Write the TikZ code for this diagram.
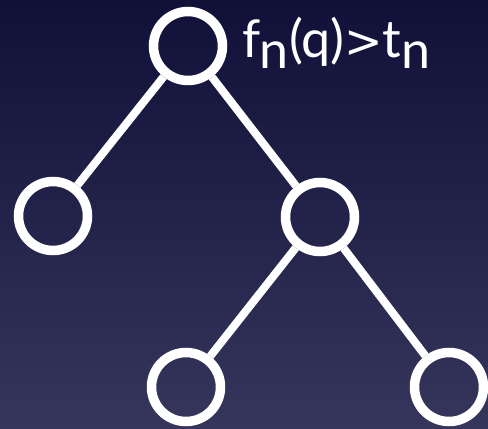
\documentclass[tikz,border=0pt]{standalone}
\usepackage{fontspec}
\setmainfont{Lato}
\newfontfamily\symfont{DejaVu Sans}
\definecolor{bgtop}{RGB}{16,16,56}
\definecolor{bgbot}{RGB}{54,53,92}
\begin{document}
\begin{tikzpicture}[x=1pt,y=-1pt,
  treenode/.style={circle,draw=white,line width=9.5pt,minimum size=69pt,inner sep=0pt},
  edge/.style={draw=white,line width=8pt},
  lbl/.style={text=white,font=\fontsize{52}{52}\selectfont,inner sep=0pt,anchor=base west}]
\shade[top color=bgtop,bottom color=bgbot] (0,0) rectangle (488,429);
\useasboundingbox (0,0) rectangle (488,429);
\node[treenode] (root) at (188,46) {};
\node[treenode] (l) at (53,216) {};
\node[treenode] (r) at (320,217) {};
\node[treenode] (rl) at (186,387) {};
\node[treenode] (rr) at (449,387) {};
\draw[edge] (root) -- (l);
\draw[edge] (root) -- (r);
\draw[edge] (r) -- (rl);
\draw[edge] (r) -- (rr);
\node[lbl] (cond) at (242,57) {f\kern-1pt\raisebox{-11pt}{n}\kern1pt(q){\symfont\fontsize{46}{46}\selectfont >}t\raisebox{-11pt}{n}};
\end{tikzpicture}
\end{document}
